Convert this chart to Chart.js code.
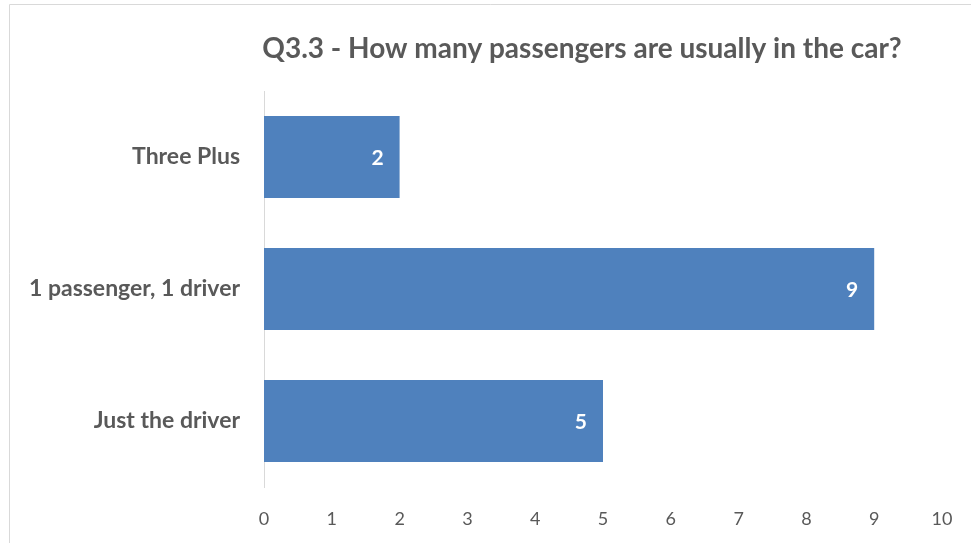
<!DOCTYPE html>
<html>
<head>
<meta charset="utf-8">
<script src="https://cdn.jsdelivr.net/npm/chart.js@4/dist/chart.umd.min.js"></script>
<style>
  html, body { margin: 0; padding: 0; background: #fff; overflow: hidden; }
  #wrap { width: 971px; height: 543px; }
</style>
</head>
<body>
<div id="wrap"><canvas id="myChart" width="971" height="543"></canvas></div>
<script>
"use strict";

// data (top to bottom)
const categories = ["Three Plus", "1 passenger, 1 driver", "Just the driver"];
const counts = [2, 9, 5];
const xTicks = [0, 1, 2, 3, 4, 5, 6, 7, 8, 9, 10];
const chartTitle = "Q3.3 - How many passengers are usually in the car?";

const textGray = "#595959";
const barBlue = "#4f81bd";

// light frame round the chart (cut off at right and bottom) + title
const framePlugin = {
  id: "frame",
  beforeDraw(chart) {
    const ctx = chart.ctx;
    ctx.save();
    ctx.strokeStyle = "#d9d9d9";
    ctx.lineWidth = 1;
    ctx.beginPath();
    ctx.moveTo(9.5, 543);
    ctx.lineTo(9.5, 4.5);
    ctx.lineTo(971, 4.5);
    ctx.stroke();
    // title
    ctx.fillStyle = textGray;
    ctx.font = "bold 28px Lato";
    ctx.textAlign = "center";
    ctx.textBaseline = "middle";
    ctx.fillText(chartTitle, 582, 49);
    ctx.restore();
  }
};

// white value labels inside the end of each bar
const valueLabels = {
  id: "valueLabels",
  afterDatasetsDraw(chart) {
    const ctx = chart.ctx;
    const meta = chart.getDatasetMeta(0);
    ctx.save();
    ctx.fillStyle = "#ffffff";
    ctx.font = "bold 21px Lato";
    ctx.textAlign = "right";
    ctx.textBaseline = "middle";
    meta.data.forEach(function (bar, i) {
      ctx.fillText(String(counts[i]), bar.x - 16, bar.y + 1);
    });
    ctx.restore();
  }
};

const config = {
  type: "bar",
  data: {
    labels: categories,
    datasets: [{
      data: counts,
      backgroundColor: barBlue,
      barPercentage: 0.62,
      categoryPercentage: 1
    }]
  },
  options: {
    indexAxis: "y",
    responsive: false,
    animation: false,
    layout: { padding: { left: 0, right: 29, top: 91, bottom: 0 } },
    plugins: {
      legend: { display: false },
      tooltip: { enabled: false },
      title: { display: false }
    },
    scales: {
      x: {
        min: 0,
        max: 10,
        afterBuildTicks(scale) {
          scale.ticks = xTicks.map(v => ({ value: v }));
        },
        afterFit(scale) {
          scale.height = 56;
          scale.paddingLeft = 0;
          scale.paddingRight = 0;
        },
        grid: { display: false, drawTicks: false },
        border: { display: false },
        ticks: {
          color: textGray,
          padding: 21,
          font: { family: "Lato", size: 18 }
        }
      },
      y: {
        afterFit(scale) { scale.width = 264; },
        grid: { display: false, drawTicks: false },
        border: { display: true, color: "#d9d9d9", width: 1 },
        ticks: {
          color: textGray,
          padding: 24,
          font: { family: "Lato", size: 23, weight: "bold" }
        }
      }
    }
  },
  plugins: [framePlugin, valueLabels]
};

const myChart = new Chart(document.getElementById("myChart"), config);
</script>
</body>
</html>
